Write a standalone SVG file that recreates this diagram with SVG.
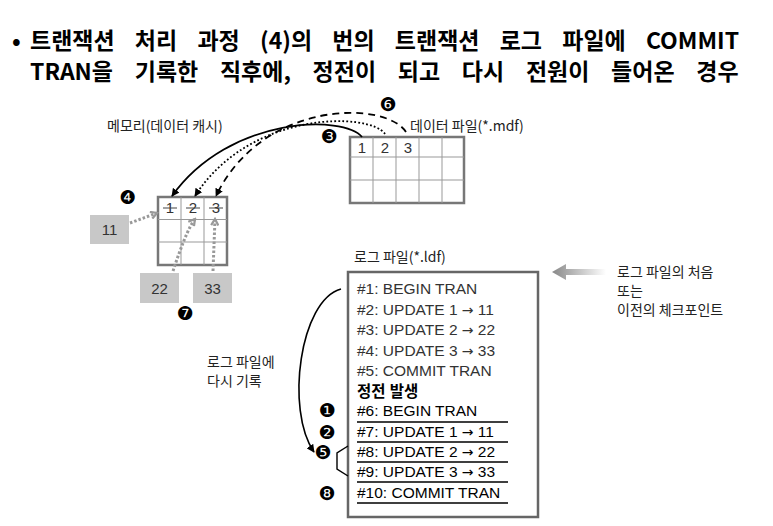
<svg xmlns="http://www.w3.org/2000/svg" width="773" height="526" viewBox="0 0 773 526">
<style>
.title{font-family:"Noto Sans CJK KR","Noto Sans",sans-serif;font-weight:700;font-size:23px;fill:#000}
.lbl{font-family:"Noto Sans CJK KR","Noto Sans",sans-serif;font-size:14px;fill:#222}
.log{font-family:"Liberation Sans","Noto Sans CJK KR",sans-serif;font-size:15.5px;fill:#333}
.log2{font-family:"Liberation Sans","Noto Sans CJK KR",sans-serif;font-size:15.5px;fill:#000}
.arr{font-family:"DejaVu Sans",sans-serif;font-size:14px}
.num{font-family:"Liberation Sans",sans-serif;font-size:15px;fill:#333;text-anchor:middle}
.circ{font-family:"DejaVu Sans",sans-serif;font-size:19px;fill:#000;text-anchor:middle}
.grid-outer{fill:#fff;stroke:#777;stroke-width:2.5}
.grid-in{stroke:#999;stroke-width:1;fill:none}
.gbox{fill:#c8c8c8}
.gdot{fill:none;stroke:#999;stroke-width:3;stroke-dasharray:2.5 2}
.ul{stroke:#000;stroke-width:1.3}
</style>
<defs>
<marker id="ah" viewBox="0 0 10 10" refX="9" refY="5" markerWidth="8" markerHeight="8" markerUnits="userSpaceOnUse" orient="auto">
<path d="M0,0 L10,5 L0,10 z" fill="#000"/>
</marker>
<marker id="ch" viewBox="0 0 10 10" refX="8" refY="5" markerWidth="9" markerHeight="9" markerUnits="userSpaceOnUse" orient="auto">
<path d="M1,1 L8,5 L1,9" fill="none" stroke="#999" stroke-width="2.5"/>
</marker>
<linearGradient id="gr" x1="0" y1="0" x2="1" y2="0">
<stop offset="0" stop-color="#888"/>
<stop offset="1" stop-color="#fff"/>
</linearGradient>
</defs>

<g id="title">
<text class="title" x="12" y="49">•</text>
<text class="title" x="30" y="49" word-spacing="15">트랜잭션 처리 과정 (4)의 번의 트랜잭션 로그 파일에 COMMIT</text>
<text class="title" x="30" y="80" word-spacing="16.5">TRAN을 기록한 직후에, 정전이 되고 다시 전원이 들어온 경우</text>
</g>

<g id="data-file">
<text class="lbl" x="410" y="131">데이터 파일(*.mdf)</text>
<rect class="grid-outer" x="350" y="137" width="114" height="66"/>
<path class="grid-in" d="M373,137V203M396,137V203M419,137V203M442,137V203M350,157H464M350,180H464"/>
<text class="num" x="362" y="153">1</text>
<text class="num" x="385" y="153">2</text>
<text class="num" x="408" y="153">3</text>
</g>

<g id="memory">
<text class="lbl" x="107" y="131" font-size="14.5">메모리(데이터 캐시)</text>
<rect class="grid-outer" x="158" y="197" width="69" height="68"/>
<path class="grid-in" d="M181,197V265M204,197V265M158,219.5H227M158,242H227"/>
<text class="num" x="170" y="213" fill="#555">1</text>
<text class="num" x="193" y="213" fill="#555">2</text>
<text class="num" x="216" y="213" fill="#555">3</text>
<path d="M163,208H177M186,208H200M209,208H223" stroke="#444" stroke-width="1.2"/>
</g>

<g id="val11"><rect class="gbox" x="90" y="215" width="39" height="29"/><text class="num" x="109.5" y="235">11</text></g>
<g id="val22"><rect class="gbox" x="140" y="273" width="39" height="30"/><text class="num" x="159.5" y="294">22</text></g>
<g id="val33"><rect class="gbox" x="193" y="273" width="39" height="30"/><text class="num" x="212.5" y="294">33</text></g>

<g id="log-file">
<text class="lbl" x="354" y="262">로그 파일(*.ldf)</text>
<rect x="348" y="272" width="190" height="245" fill="#fff" stroke="#666" stroke-width="2.5"/>
<text class="log" x="357" y="294">#1: BEGIN TRAN</text>
<text class="log" x="357" y="314.5">#2: UPDATE 1 <tspan class="arr">→</tspan> 11</text>
<text class="log" x="357" y="335">#3: UPDATE 2 <tspan class="arr">→</tspan> 22</text>
<text class="log" x="357" y="355.5">#4: UPDATE 3 <tspan class="arr">→</tspan> 33</text>
<text class="log" x="357" y="376">#5: COMMIT TRAN</text>
<text class="log2" x="357" y="397" font-family="Noto Sans CJK KR, sans-serif" font-weight="700" font-size="14.5">정전 발생</text>
<text class="log2" x="357" y="416">#6: BEGIN TRAN</text>
<text class="log2" x="357" y="437">#7: UPDATE 1 <tspan class="arr">→</tspan> 11</text>
<text class="log2" x="357" y="457">#8: UPDATE 2 <tspan class="arr">→</tspan> 22</text>
<text class="log2" x="357" y="477">#9: UPDATE 3 <tspan class="arr">→</tspan> 33</text>
<text class="log2" x="357" y="497.5">#10: COMMIT TRAN</text>
<path class="ul" d="M357,422H508M357,442H508M357,462H508M357,482H508M357,503H508"/>
</g>

<g id="checkpoint">
<path d="M552,272 L566,264 L566,269 L606,269 L606,275 L566,275 L566,280 z" fill="url(#gr)"/>
<text class="lbl" x="617" y="277">로그 파일의 처음</text>
<text class="lbl" x="617" y="296">또는</text>
<text class="lbl" x="617" y="315">이전의 체크포인트</text>
</g>

<g id="rewrite-label">
<text class="lbl" x="207" y="367">로그 파일에</text>
<text class="lbl" x="207" y="386">다시 기록</text>
</g>

<g id="markers">
<text class="circ" x="388" y="111">❻</text>
<text class="circ" x="329" y="143">❸</text>
<text class="circ" x="128" y="204">❹</text>
<text class="circ" x="185" y="320">❼</text>
<text class="circ" x="327" y="417">❶</text>
<text class="circ" x="327" y="439">❷</text>
<text class="circ" x="323" y="459">❺</text>
<text class="circ" x="327" y="500">❽</text>
</g>

<g id="connectors">
<path d="M362,137 C345,115 230,115 172,196" fill="none" stroke="#000" stroke-width="1.8" marker-end="url(#ah)"/>
<path d="M385,134 C370,112 250,110 195,196" fill="none" stroke="#000" stroke-width="1.8" stroke-dasharray="1.8 2.2" marker-end="url(#ah)"/>
<path d="M406,132 C385,100 262,100 216,196" fill="none" stroke="#000" stroke-width="1.8" stroke-dasharray="7 5" marker-end="url(#ah)"/>
<path class="gdot" d="M130,223 L157,213" marker-end="url(#ch)"/>
<path class="gdot" d="M173,271 C180,250 188,228 195,219" marker-end="url(#ch)"/>
<path class="gdot" d="M213,271 L215,219" marker-end="url(#ch)"/>
<path d="M341,289 C300,300 285,410 314,452" fill="none" stroke="#000" stroke-width="1.6" marker-end="url(#ah)"/>
<polyline points="348,446 337,453 337,469 348,476" fill="none" stroke="#000" stroke-width="1.4"/>
</g>
</svg>
